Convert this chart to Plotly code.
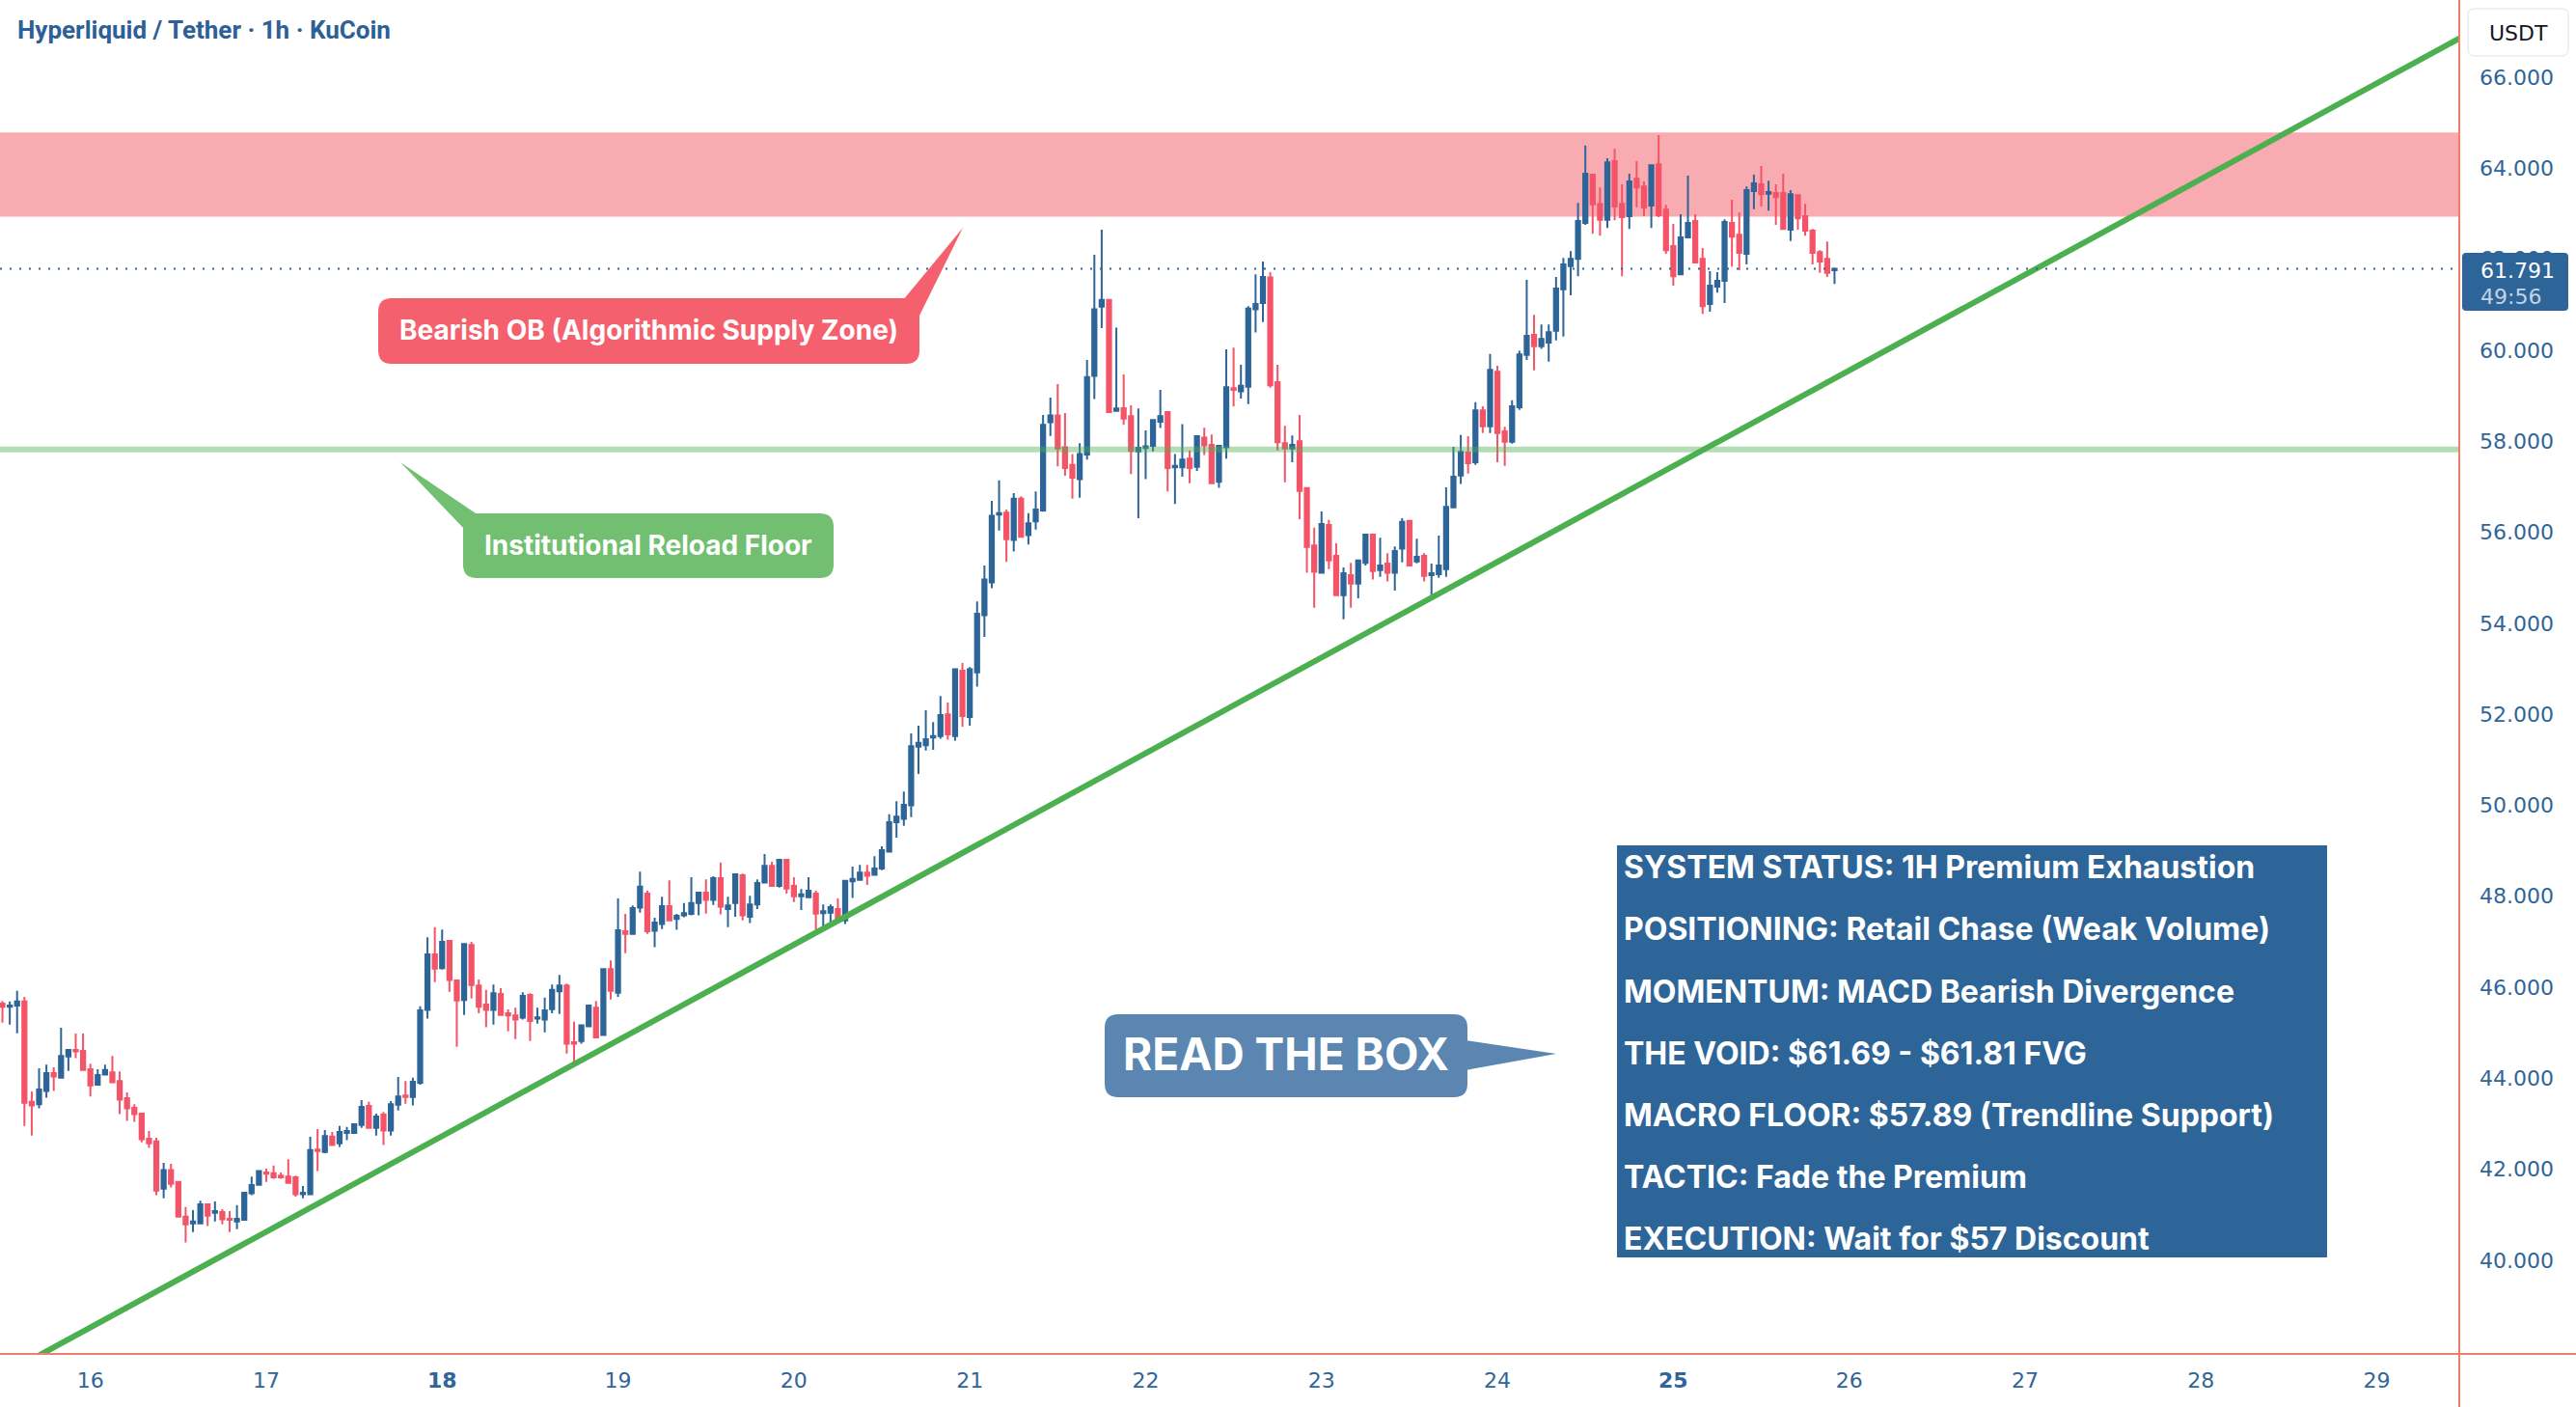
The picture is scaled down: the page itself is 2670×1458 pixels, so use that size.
import plotly.graph_objects as go
import pandas as pd

# ---------------- data ----------------
start_time = "2025-08-15 12:00"
n_candles = 251
times = pd.date_range(start_time, periods=n_candles, freq="h")

opens = [45.64, 45.57, 45.60, 45.69, 43.48, 43.43, 43.72, 44.11, 44.01, 44.48,
         44.62, 44.60, 44.20, 43.86, 44.08, 44.13, 43.94, 43.56, 43.35, 43.22,
         42.67, 42.61, 41.57, 41.98, 41.72, 40.96, 40.81, 40.81, 41.23, 41.04,
         41.06, 40.91, 40.85, 40.89, 41.47, 41.66, 41.93, 41.91, 41.86, 41.84,
         41.82, 41.45, 41.45, 42.43, 42.38, 42.72, 42.57, 42.80, 42.80, 42.97,
         43.39, 42.91, 43.20, 42.85, 43.42, 43.62, 43.59, 43.90, 45.50, 46.72,
         46.42, 47.02, 46.15, 45.72, 46.93, 46.04, 45.62, 45.50, 45.85, 45.43,
         45.38, 45.33, 45.83, 45.31, 45.29, 45.52, 45.91, 46.04, 44.79, 44.82,
         45.14, 45.55, 44.95, 46.40, 45.88, 47.23, 47.17, 47.75, 48.06, 47.24,
         47.39, 47.78, 47.50, 47.58, 47.61, 47.85, 48.08, 47.92, 48.40, 47.72,
         47.85, 48.46, 47.55, 47.82, 48.30, 48.67, 48.23, 48.80, 48.23, 48.00,
         47.98, 48.06, 47.63, 47.64, 47.72, 47.47, 48.33, 48.36, 48.52, 48.47,
         48.61, 48.98, 49.63, 49.70, 50.00, 51.29, 51.32, 51.49, 51.52, 52.00,
         51.52, 52.96, 51.94, 52.92, 54.18, 54.90, 56.39, 56.43, 55.83, 56.74,
         55.94, 56.24, 56.48, 58.42, 58.57, 57.87, 57.48, 57.17, 57.71, 59.44,
         60.96, 61.11, 58.67, 58.73, 58.55, 57.78, 57.85, 57.90, 58.43, 58.64,
         57.43, 57.43, 57.62, 57.44, 58.08, 57.92, 57.11, 57.87, 59.17, 59.10,
         59.20, 60.90, 61.04, 61.60, 59.30, 57.96, 57.84, 58.00, 56.97, 55.71,
         55.11, 56.16, 55.48, 54.62, 55.06, 54.87, 55.33, 55.95, 55.17, 55.31,
         55.11, 55.64, 56.25, 55.36, 55.48, 55.06, 55.08, 55.19, 56.55, 57.25,
         57.75, 57.54, 58.68, 58.33, 59.53, 58.22, 57.99, 58.75, 59.90, 60.34,
         60.09, 60.17, 60.43, 61.34, 61.85, 62.01, 62.80, 63.86, 63.22, 62.87,
         64.16, 63.22, 62.95, 63.77, 63.60, 63.18, 64.09, 63.09, 62.29, 61.67,
         62.48, 62.84, 62.01, 61.02, 61.40, 61.53, 62.80, 62.54, 62.12, 63.50,
         63.65, 63.44, 63.46, 63.46, 62.65, 63.41, 62.95, 62.63, 62.16, 62.01,
         61.76]

highs = [45.70, 45.69, 45.92, 45.79, 43.71, 44.22, 44.30, 44.24, 45.11, 44.64,
         44.98, 44.98, 44.32, 44.20, 44.30, 44.49, 44.15, 43.69, 43.43, 43.22,
         42.84, 42.69, 42.14, 42.12, 41.74, 41.17, 41.10, 41.31, 41.25, 41.29,
         41.12, 41.08, 41.21, 41.48, 41.84, 41.97, 42.01, 42.08, 41.93, 42.22,
         41.86, 41.63, 42.71, 42.88, 42.86, 42.82, 42.95, 42.93, 42.99, 43.52,
         43.48, 43.22, 43.26, 43.50, 44.03, 43.94, 44.01, 45.58, 47.10, 47.32,
         47.27, 47.04, 46.15, 46.97, 47.00, 46.17, 45.94, 46.06, 45.98, 45.51,
         45.55, 45.89, 45.87, 45.55, 45.77, 46.06, 46.27, 46.08, 45.24, 45.18,
         45.60, 45.70, 46.40, 46.59, 47.95, 47.61, 47.80, 48.54, 48.12, 47.53,
         47.99, 48.35, 47.61, 47.85, 48.42, 48.10, 48.37, 48.44, 48.74, 47.99,
         48.50, 48.50, 48.01, 48.37, 48.93, 48.76, 48.80, 48.80, 48.42, 48.16,
         48.42, 48.12, 47.82, 47.82, 47.95, 48.36, 48.65, 48.69, 48.69, 48.88,
         49.10, 49.80, 50.09, 50.30, 51.58, 51.75, 52.09, 51.83, 52.40, 52.26,
         52.99, 53.13, 53.04, 54.48, 55.27, 56.69, 57.14, 56.50, 56.86, 56.79,
         56.42, 56.90, 58.58, 58.96, 59.26, 58.62, 57.72, 57.96, 59.79, 62.10,
         62.65, 61.11, 60.50, 59.47, 58.79, 58.72, 58.24, 58.49, 59.13, 58.64,
         57.72, 58.38, 57.80, 58.12, 58.30, 58.15, 57.92, 60.02, 60.06, 59.68,
         60.97, 61.67, 61.95, 61.72, 59.68, 58.34, 58.13, 58.58, 56.97, 56.10,
         56.46, 56.27, 55.76, 55.23, 55.33, 55.40, 55.97, 55.95, 55.88, 55.54,
         55.69, 56.31, 56.27, 55.86, 55.54, 55.31, 55.93, 56.99, 57.88, 58.14,
         58.11, 58.86, 58.77, 59.92, 59.66, 58.32, 58.90, 59.99, 61.55, 60.78,
         60.57, 60.57, 61.61, 62.03, 62.18, 63.24, 64.50, 63.88, 63.58, 64.22,
         64.43, 63.65, 63.88, 64.16, 63.71, 64.07, 64.73, 63.20, 62.78, 62.99,
         63.84, 62.99, 62.25, 61.74, 61.72, 62.88, 63.31, 63.03, 63.60, 63.86,
         64.05, 63.73, 63.65, 63.88, 63.52, 63.41, 63.22, 62.67, 62.20, 62.39,
         61.79]

lows = [45.22, 45.18, 44.99, 42.95, 42.74, 43.34, 43.57, 43.72, 44.01, 44.16,
        44.44, 44.16, 43.60, 43.84, 44.08, 43.91, 43.21, 43.06, 43.04, 42.59,
        42.47, 41.43, 41.36, 41.60, 40.96, 40.39, 40.62, 40.79, 40.75, 40.85,
        40.79, 40.62, 40.68, 40.87, 41.43, 41.66, 41.72, 41.79, 41.79, 41.70,
        41.40, 41.36, 41.45, 41.96, 42.35, 42.51, 42.49, 42.64, 42.78, 42.91,
        42.91, 42.74, 42.53, 42.74, 43.29, 43.44, 43.40, 43.86, 45.31, 46.11,
        46.39, 45.90, 44.69, 45.39, 45.75, 45.43, 45.12, 45.18, 45.39, 45.03,
        44.86, 45.29, 44.82, 45.20, 45.01, 45.43, 45.41, 44.54, 44.27, 44.76,
        45.14, 44.90, 44.95, 45.73, 45.79, 46.75, 47.17, 47.64, 47.17, 46.88,
        47.28, 47.47, 47.26, 47.54, 47.58, 47.58, 47.62, 47.81, 47.60, 47.32,
        47.55, 47.47, 47.41, 47.72, 48.30, 48.21, 48.19, 48.06, 47.87, 47.70,
        47.98, 47.15, 47.26, 47.43, 47.45, 47.39, 47.96, 48.36, 48.25, 48.47,
        48.57, 48.98, 49.29, 49.55, 49.74, 50.69, 51.20, 51.22, 51.46, 51.44,
        51.42, 51.73, 51.75, 52.61, 53.70, 54.77, 56.04, 55.35, 55.58, 55.90,
        55.73, 56.06, 56.45, 58.12, 57.45, 57.24, 56.74, 56.76, 57.60, 58.93,
        60.49, 58.63, 58.65, 58.36, 57.28, 56.31, 57.17, 57.78, 58.29, 56.90,
        56.62, 57.22, 57.08, 57.35, 57.70, 57.08, 56.98, 57.62, 58.77, 58.94,
        58.82, 60.39, 60.62, 59.18, 57.80, 57.10, 57.54, 56.29, 55.11, 54.34,
        55.11, 55.19, 54.62, 54.09, 54.34, 54.55, 55.27, 54.96, 55.02, 54.92,
        54.72, 55.34, 55.25, 55.32, 54.92, 54.51, 55.00, 55.02, 56.55, 57.06,
        57.29, 57.48, 58.18, 58.18, 57.54, 57.46, 57.95, 58.69, 59.79, 59.56,
        60.03, 59.75, 60.22, 60.30, 61.21, 61.63, 62.76, 62.56, 62.52, 62.69,
        62.86, 61.63, 62.67, 63.14, 62.95, 62.69, 62.93, 62.12, 61.42, 61.67,
        62.48, 61.93, 60.80, 60.85, 61.27, 61.04, 61.84, 61.76, 61.89, 63.10,
        63.16, 63.07, 62.76, 62.67, 62.40, 62.65, 62.52, 61.89, 61.70, 61.61,
        61.46]

closes = [45.57, 45.60, 45.69, 43.46, 43.40, 43.75, 44.11, 44.04, 44.49, 44.62,
          44.59, 44.18, 43.84, 44.07, 44.18, 43.91, 43.53, 43.34, 43.21, 42.66,
          42.57, 41.53, 41.98, 41.68, 40.96, 40.79, 40.85, 41.23, 40.98, 41.08,
          40.90, 40.89, 40.91, 41.48, 41.65, 41.96, 41.90, 41.82, 41.82, 41.70,
          41.45, 41.48, 42.42, 42.40, 42.73, 42.53, 42.82, 42.84, 42.99, 43.37,
          42.91, 43.16, 42.85, 43.43, 43.60, 43.59, 43.92, 45.49, 46.72, 46.41,
          47.00, 46.16, 45.71, 46.95, 46.05, 45.57, 45.50, 45.87, 45.39, 45.38,
          45.29, 45.81, 45.26, 45.34, 45.49, 45.94, 46.04, 44.76, 44.76, 45.16,
          45.60, 44.90, 46.40, 45.92, 47.25, 47.17, 47.74, 48.21, 47.23, 47.42,
          47.78, 47.47, 47.57, 47.63, 47.85, 48.08, 47.92, 48.40, 47.77, 47.80,
          48.48, 47.58, 47.82, 48.29, 48.67, 48.23, 48.80, 48.17, 48.00, 48.04,
          48.12, 47.62, 47.67, 47.76, 47.45, 48.34, 48.38, 48.52, 48.45, 48.61,
          49.01, 49.63, 49.75, 50.01, 51.30, 51.37, 51.45, 51.52, 51.98, 51.56,
          52.99, 51.96, 52.99, 54.21, 54.96, 56.36, 56.42, 55.85, 56.74, 55.90,
          56.20, 56.50, 58.36, 58.57, 57.84, 57.41, 57.20, 57.72, 59.41, 60.90,
          61.11, 58.64, 58.72, 58.50, 57.79, 57.86, 57.89, 58.47, 58.55, 57.41,
          57.46, 57.60, 57.41, 58.11, 57.91, 57.08, 57.90, 59.19, 59.13, 59.22,
          60.92, 61.02, 61.61, 59.23, 57.98, 57.84, 57.92, 56.91, 55.68, 55.13,
          56.18, 55.38, 54.62, 55.10, 54.87, 55.38, 55.95, 55.15, 55.27, 55.11,
          55.59, 56.23, 55.27, 55.46, 55.04, 55.10, 55.27, 56.56, 57.22, 57.77,
          57.52, 58.68, 58.33, 59.57, 58.18, 57.99, 58.77, 59.91, 60.32, 60.09,
          60.25, 60.40, 61.36, 61.89, 62.01, 62.84, 63.88, 63.21, 62.87, 64.13,
          63.16, 62.93, 63.71, 63.58, 63.14, 64.07, 62.97, 62.20, 61.63, 62.48,
          62.80, 61.93, 60.97, 61.42, 61.53, 62.82, 62.50, 62.14, 63.52, 63.67,
          63.43, 63.48, 63.37, 62.67, 63.43, 62.90, 62.63, 62.14, 61.95, 61.70,
          61.79]

last_price = 61.791
countdown = "49:56"
supply_zone = [62.94, 64.79]
reload_floor = 57.82
trend_x = ["2025-08-15 12:00", "2025-08-29 12:00"]
trend_y = [37.47, 66.92]

day_ticks = list(range(16, 30))
bold_days = [18, 25]
price_ticks = list(range(40, 67, 2))

title_text = "Hyperliquid / Tether · 1h · KuCoin"
supply_label = "Bearish OB (Algorithmic Supply Zone)"
floor_label = "Institutional Reload Floor"
read_label = "READ THE BOX"
box_lines = [
    "SYSTEM STATUS: 1H Premium Exhaustion",
    "POSITIONING: Retail Chase (Weak Volume)",
    "MOMENTUM: MACD Bearish Divergence",
    "THE VOID: $61.69 - $61.81 FVG",
    "MACRO FLOOR: $57.89 (Trendline Support)",
    "TACTIC: Fade the Premium",
    "EXECUTION: Wait for $57 Discount",
]

# ---------------- styling / geometry ----------------
W, H = 2670, 1458
MR, MB = 121, 55
PW, PH = W - MR, H - MB

BLUE = "#2e6599"
RED = "#f45468"
TICK_COLOR = "#2f6598"
AXIS_LINE = "#ee806b"


def px(x):
    return x / PW


def py(y):
    return 1 - y / PH


def pt(x, y):
    return f"{px(x):.6f},{py(y):.6f}"


def rrect(x0, y0, x1, y1, r):
    return (f"M{pt(x0 + r, y0)} L{pt(x1 - r, y0)} Q{pt(x1, y0)} {pt(x1, y0 + r)} "
            f"L{pt(x1, y1 - r)} Q{pt(x1, y1)} {pt(x1 - r, y1)} "
            f"L{pt(x0 + r, y1)} Q{pt(x0, y1)} {pt(x0, y1 - r)} "
            f"L{pt(x0, y0 + r)} Q{pt(x0, y0)} {pt(x0 + r, y0)} Z")


def tri(a, b, c):
    return f"M{pt(*a)} L{pt(*b)} L{pt(*c)} Z"


fig = go.Figure()

fig.add_trace(go.Candlestick(
    x=times, open=opens, high=highs, low=lows, close=closes,
    increasing=dict(line=dict(color=BLUE, width=2), fillcolor=BLUE),
    decreasing=dict(line=dict(color=RED, width=2), fillcolor=RED),
    whiskerwidth=0, hoverinfo="skip", showlegend=False,
))

fig.add_trace(go.Scatter(
    x=trend_x, y=trend_y, mode="lines",
    line=dict(color="#4caf50", width=6),
    hoverinfo="skip", showlegend=False,
))

shapes = []
# supply zone
shapes.append(dict(type="rect", xref="paper", yref="y", x0=0, x1=1,
                   y0=supply_zone[0], y1=supply_zone[1],
                   fillcolor="#f9abb2", line=dict(width=0), layer="below"))
# reload floor
shapes.append(dict(type="line", xref="paper", yref="y", x0=0, x1=1,
                   y0=reload_floor, y1=reload_floor,
                   line=dict(color="rgba(76,175,80,0.42)", width=6), layer="above"))
# last price dotted line
shapes.append(dict(type="line", xref="paper", yref="y", x0=0, x1=1,
                   y0=last_price, y1=last_price,
                   line=dict(color=BLUE, width=2, dash="2px,8px"), layer="above"))

# callouts
RED_CALL = "#f5606e"
GREEN_CALL = "#72bf72"
GREY_CALL = "#5a86b1"
shapes.append(dict(type="path", xref="paper", yref="paper",
                   path=tri((936, 311), (998, 236), (953, 327)),
                   fillcolor=RED_CALL, line=dict(width=0), layer="above"))
shapes.append(dict(type="path", xref="paper", yref="paper",
                   path=rrect(392, 309, 953, 377, 14),
                   fillcolor=RED_CALL, line=dict(width=0), layer="above"))
shapes.append(dict(type="path", xref="paper", yref="paper",
                   path=tri((496, 534), (415, 479), (482, 549)),
                   fillcolor=GREEN_CALL, line=dict(width=0), layer="above"))
shapes.append(dict(type="path", xref="paper", yref="paper",
                   path=rrect(480, 532, 864, 599, 14),
                   fillcolor=GREEN_CALL, line=dict(width=0), layer="above"))
shapes.append(dict(type="path", xref="paper", yref="paper",
                   path=tri((1519, 1078), (1613, 1092), (1519, 1109)),
                   fillcolor=GREY_CALL, line=dict(width=0), layer="above"))
shapes.append(dict(type="path", xref="paper", yref="paper",
                   path=rrect(1145, 1051, 1521, 1137, 14),
                   fillcolor=GREY_CALL, line=dict(width=0), layer="above"))
# info box
shapes.append(dict(type="rect", xref="paper", yref="paper",
                   x0=px(1676), x1=px(2412), y0=py(1303), y1=py(876),
                   fillcolor=BLUE, line=dict(width=0), layer="above"))
# axis border lines
shapes.append(dict(type="line", xref="paper", yref="paper",
                   x0=1, x1=1, y0=py(H), y1=1,
                   line=dict(color=AXIS_LINE, width=2), layer="above"))
shapes.append(dict(type="line", xref="paper", yref="paper",
                   x0=0, x1=px(W), y0=0, y1=0,
                   line=dict(color=AXIS_LINE, width=2), layer="above"))
# price label box
shapes.append(dict(type="path", xref="paper", yref="paper",
                   path=rrect(2552, 262, 2662, 322, 4),
                   fillcolor=BLUE, line=dict(width=0), layer="above"))
# USDT box
shapes.append(dict(type="path", xref="paper", yref="paper",
                   path=rrect(2558, 9, 2662, 58, 7),
                   fillcolor="white", line=dict(color="#e0e3eb", width=1), layer="above"))

ann = []
ann.append(dict(text=title_text, x=px(16), y=py(31), xanchor="left", yanchor="middle",
                font=dict(family="Roboto", size=26, color="#2c6096", weight="bold")))
ann.append(dict(text=supply_label, x=px(672), y=py(342), xanchor="center", yanchor="middle",
                font=dict(family="Inter", size=28, color="white", weight="bold")))
ann.append(dict(text=floor_label, x=px(672), y=py(565), xanchor="center", yanchor="middle",
                font=dict(family="Inter", size=28, color="white", weight="bold")))
ann.append(dict(text=read_label, x=px(1333), y=py(1092), xanchor="center", yanchor="middle",
                font=dict(family="Inter", size=46, color="white", weight="bold")))
for i, line in enumerate(box_lines):
    ann.append(dict(text=line, x=px(1681), y=py(899 + 64.0 * i), xanchor="left", yanchor="middle",
                    font=dict(family="Inter", size=32, color="white", weight="bold")))
ann.append(dict(text="USDT", x=px(2610), y=py(34), xanchor="center", yanchor="middle",
                font=dict(family="DejaVu Sans", size=22, color="#131722")))
ann.append(dict(text=f"{last_price:.3f}", x=px(2569), y=py(280), xanchor="left", yanchor="middle",
                font=dict(family="DejaVu Sans", size=22, color="white")))
ann.append(dict(text=countdown, x=px(2569), y=py(307), xanchor="left", yanchor="middle",
                font=dict(family="DejaVu Sans", size=22, color="#c3d3e5")))
for a in ann:
    a.update(xref="paper", yref="paper", showarrow=False)

tickvals_x = [f"2025-08-{d:02d}" for d in day_ticks]
ticktext_x = [f"<b>{d}</b>" if d in bold_days else str(d) for d in day_ticks]

fig.update_layout(
    width=W, height=H,
    margin=dict(l=0, r=MR, t=0, b=MB),
    paper_bgcolor="white", plot_bgcolor="white",
    showlegend=False, hovermode=False, boxgap=0.2,
    shapes=shapes, annotations=ann,
    xaxis=dict(
        type="date", range=["2025-08-15 11:40", "2025-08-29 11:15"],
        rangeslider=dict(visible=False), showgrid=False, zeroline=False, showline=False,
        tickvals=tickvals_x, ticktext=ticktext_x, ticks="",
        tickfont=dict(family="DejaVu Sans", size=22, color=TICK_COLOR),
        ticklabelstandoff=12, fixedrange=True,
    ),
    yaxis=dict(
        side="right", range=[37.94, 67.70], showgrid=False, zeroline=False, showline=False,
        tickvals=price_ticks, ticktext=[f"{v:.3f}" for v in price_ticks], ticks="",
        tickfont=dict(family="DejaVu Sans", size=22, color=TICK_COLOR),
        ticklabelstandoff=20, fixedrange=True,
    ),
)

fig.write_html("out.html", config={"displayModeBar": False})
